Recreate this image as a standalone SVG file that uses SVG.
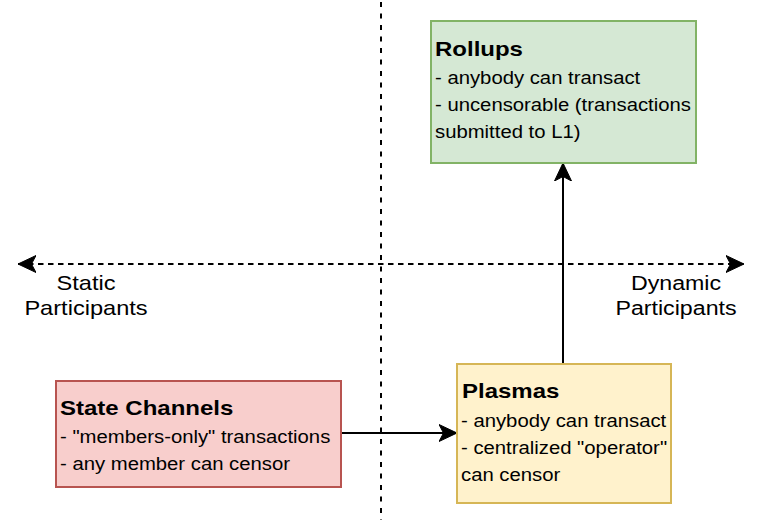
<svg xmlns="http://www.w3.org/2000/svg" width="776" height="525" viewBox="0 0 776 525">
  <defs>
    <style>
      .txt { font-family: "Liberation Sans", Arial, Helvetica, sans-serif; fill: #000; }
      .title { font-size: 20px; font-weight: bold; }
      .body { font-size: 17.5px; }
      .axis { font-size: 20px; text-anchor: middle; }
      .edge { fill: none; stroke: #000; stroke-width: 2; }
      .dashv { fill: none; stroke: #000; stroke-width: 2; stroke-dasharray: 5 6.5; }
      .dashh { fill: none; stroke: #000; stroke-width: 2; stroke-dasharray: 5.5 4.5; }
    </style>
    <marker id="arrow" viewBox="0 0 20 20" refX="18" refY="10" markerWidth="20" markerHeight="20" markerUnits="userSpaceOnUse" orient="auto-start-reverse">
      <path d="M18,10 L0,1.5 L4.5,10 L0,18.5 Z" fill="#000" stroke="#000" stroke-width="1"/>
    </marker>
  </defs>

  <g id="axes">
    <line class="dashv" x1="381" y1="2" x2="381" y2="520"/>
    <line class="dashh" x1="18" y1="264" x2="744" y2="264" marker-start="url(#arrow)" marker-end="url(#arrow)"/>
  </g>

  <g id="axis-labels">
    <text class="txt axis" transform="translate(86,290) scale(1.18,1)"><tspan x="0" dy="0">Static</tspan><tspan x="0" dy="25">Participants</tspan></text>
    <text class="txt axis" transform="translate(676,290) scale(1.16,1)"><tspan x="0" dy="0">Dynamic</tspan><tspan x="0" dy="25">Participants</tspan></text>
  </g>

  <g id="connectors">
    <line class="edge" x1="341" y1="433" x2="457" y2="433" marker-end="url(#arrow)"/>
    <line class="edge" x1="563" y1="364" x2="563" y2="163" marker-end="url(#arrow)"/>
  </g>

  <g id="rollups">
    <rect x="431" y="21" width="265" height="142" fill="#d5e8d4" stroke="#82b366" stroke-width="2"/>
    <text class="txt title" transform="translate(435,56) scale(1.2,1)">Rollups</text>
    <text class="txt body" transform="translate(435,84) scale(1.16,1)"><tspan x="0" dy="0">- anybody can transact</tspan><tspan x="0" dy="27">- uncensorable (transactions</tspan><tspan x="0" dy="27">submitted to L1)</tspan></text>
  </g>

  <g id="plasmas">
    <rect x="457" y="364" width="214" height="139" fill="#fff2cc" stroke="#d6b656" stroke-width="2"/>
    <text class="txt title" transform="translate(462,398) scale(1.2,1)">Plasmas</text>
    <text class="txt body" transform="translate(461,427) scale(1.16,1)"><tspan x="0" dy="0">- anybody can transact</tspan><tspan x="0" dy="27">- centralized "operator"</tspan><tspan x="0" dy="27">can censor</tspan></text>
  </g>

  <g id="state-channels">
    <rect x="56" y="381" width="285" height="106" fill="#f8cecc" stroke="#b85450" stroke-width="2"/>
    <text class="txt title" transform="translate(60,415) scale(1.2,1)">State Channels</text>
    <text class="txt body" transform="translate(60,443) scale(1.16,1)"><tspan x="0" dy="0">- "members-only" transactions</tspan><tspan x="0" dy="27">- any member can censor</tspan></text>
  </g>
</svg>
